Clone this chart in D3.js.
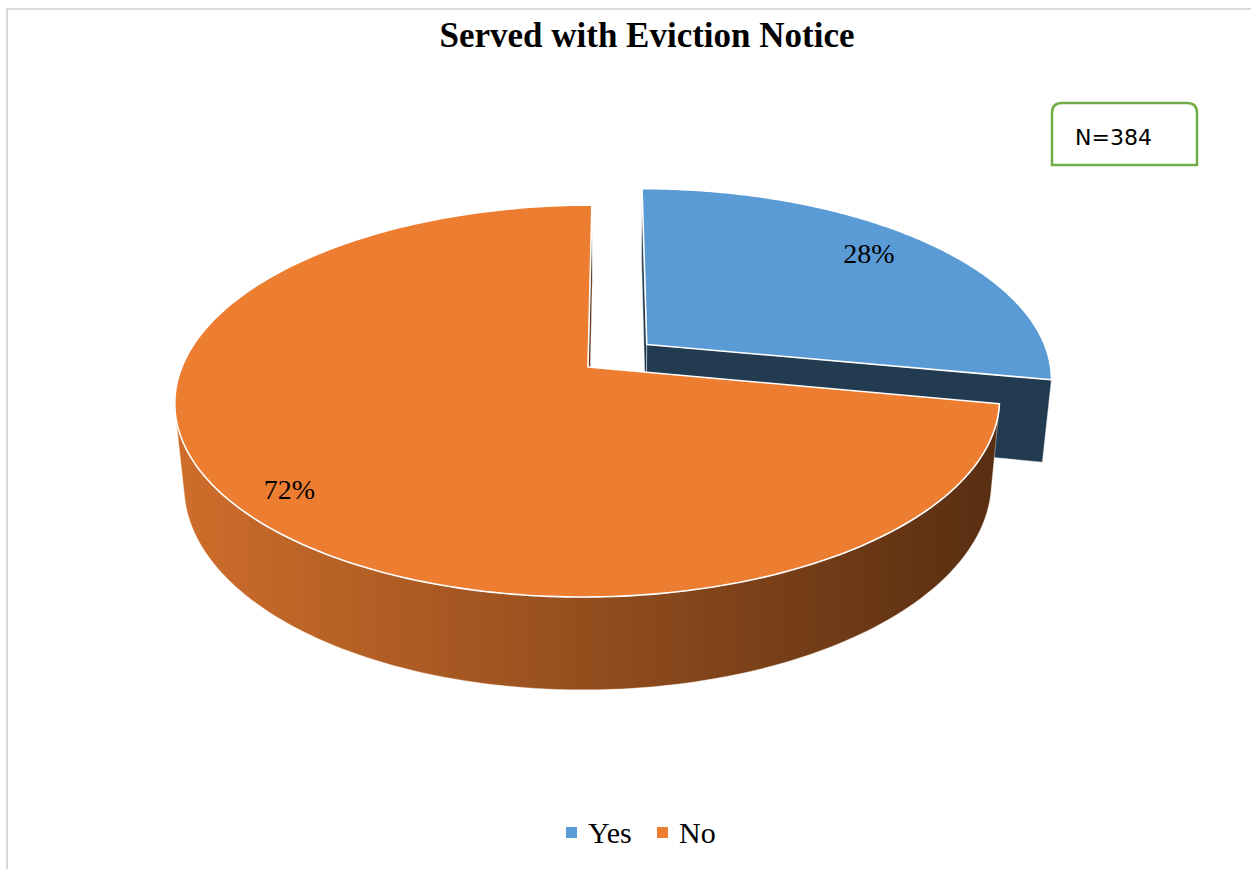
<!DOCTYPE html>
<html><head><meta charset="utf-8">
<script src="https://cdn.jsdelivr.net/npm/d3@7"></script>
<style>body{margin:0;background:#fff}</style>
</head><body>
<svg id="chart" width="1251" height="869"></svg>
<script>
// ---- data ----
const title = "Served with Eviction Notice";
const categories = ["Yes", "No"];
const values = [28, 72];
const valueLabels = ["28%", "72%"];
const colors = ["#5b9bd5", "#ed7d31"];
const noteText = "N=384";

// ---- layout / styling config ----
const W = 1251, H = 869;
const svg = d3.select("#chart");
const apexX = 588, cy = 367;               // projected pie centre
const tilt = 27.6 * Math.PI / 180, dist = 5.1, focal = 2092, thick = 0.2295;
const fx = focal * 0.99, camX = 0.065;     // camera slightly right of centre
const sinA = Math.sin(tilt), cosA = Math.cos(tilt);
const px = apexX + fx * camX / dist;
const explodeBy = {Yes: 0.19, No: 0};
const labelPos = {Yes: {k: 0.825, rot: -1.9}, No: {k: 0.874, rot: -1.9}};

function proj(x, y, z) {
  const Yc = z * sinA + y * cosA;
  const Zc = z * cosA - y * sinA + dist;
  return [px + fx * (x - camX) / Zc, cy - focal * Yc / Zc];
}
function shade(c, k) {
  const r = d3.rgb(c);
  return d3.rgb(r.r * k, r.g * k, r.b * k).formatHex();
}
function area(pts) {
  let s = 0;
  for (let i = 0; i < pts.length; i++) {
    const a = pts[i], b = pts[(i + 1) % pts.length];
    s += a[0] * b[1] - b[0] * a[1];
  }
  return s / 2;
}
const line = d3.line();

// background border
svg.append("rect").attr("width", W).attr("height", H).attr("fill", "#fff");
svg.append("path").attr("d", `M7,${H} V9 H${W}`).attr("fill", "none")
  .attr("stroke", "#d9d9d9").attr("stroke-width", 2);

// title
svg.append("text").attr("x", 647).attr("y", 47).attr("text-anchor", "middle")
  .attr("font-family", "'Liberation Serif','Times New Roman',serif")
  .attr("font-weight", "bold").attr("font-size", 36)
  .attr("textLength", 415).attr("lengthAdjust", "spacingAndGlyphs")
  .text(title);

// pie
const pie = d3.pie().sort(null).startAngle(0).endAngle(2 * Math.PI);
const arcs = pie(values).map((a, i) => {
  const mid = (a.startAngle + a.endAngle) / 2;
  const e = explodeBy[categories[i]] || 0;
  return {a0: a.startAngle, a1: a.endAngle, mid, ox: e * Math.sin(mid), oz: e * Math.cos(mid),
          color: colors[i], cat: categories[i], label: valueLabels[i]};
});

const xLeft = proj(-1, 0, 0)[0], xRight = proj(1, 0, 0)[0];
const defs = svg.append("defs");
arcs.forEach((s, i) => {
  const g = defs.append("linearGradient").attr("id", "side" + i)
    .attr("gradientUnits", "userSpaceOnUse")
    .attr("x1", xLeft).attr("x2", xRight).attr("y1", 0).attr("y2", 0);
  g.append("stop").attr("offset", 0).attr("stop-color", shade(s.color, 0.87));
  g.append("stop").attr("offset", 0.5).attr("stop-color", shade(s.color, 0.62));
  g.append("stop").attr("offset", 1).attr("stop-color", shade(s.color, 0.37));
});

function rimPt(s, t, y) { return proj(s.ox + Math.sin(t), y, s.oz + Math.cos(t)); }
function rimPts(s, t0, t1, y, n) {
  const pts = [];
  for (let i = 0; i <= n; i++) pts.push(rimPt(s, t0 + (t1 - t0) * i / n, y));
  return pts;
}
function sideVisible(s, t) {
  const a = rimPt(s, t, 0), b = rimPt(s, t + 1e-3, 0), c = rimPt(s, t, -thick);
  const dx = b[0] - a[0], dy = b[1] - a[1], bx = c[0] - a[0], by = c[1] - a[1];
  return dx * by - dy * bx < 0;
}

// draw farthest slice first
const order = arcs.map((s, i) => i).sort((p, q) =>
  (arcs[q].oz + 0.5 * Math.cos(arcs[q].mid)) - (arcs[p].oz + 0.5 * Math.cos(arcs[p].mid)));

const pieG = svg.append("g");
order.forEach(i => {
  const s = arcs[i];
  const g = pieG.append("g");
  // radial walls
  [[s.a0, -1], [s.a1, 1]].forEach(([t, sgn]) => {
    const pts = [proj(s.ox, 0, s.oz), rimPt(s, t, 0), rimPt(s, t, -thick), proj(s.ox, -thick, s.oz)];
    if (sgn * area(pts) <= 1) return;
    g.append("path").attr("d", line(pts) + "Z").attr("fill", shade(s.color, 0.38))
      .attr("stroke", "#ffffff").attr("stroke-opacity", 0.5).attr("stroke-width", 0.8)
      .attr("stroke-linejoin", "round");
  });
  // outer side: visible runs
  const N = 400;
  let run = null; const runs = [];
  for (let k = 0; k <= N; k++) {
    const t = s.a0 + (s.a1 - s.a0) * k / N;
    if (sideVisible(s, t)) { if (!run) run = [t, t]; else run[1] = t; }
    else if (run) { runs.push(run); run = null; }
  }
  if (run) runs.push(run);
  runs.forEach(([t0, t1]) => {
    const top = rimPts(s, t0, t1, 0, 120);
    const bot = rimPts(s, t0, t1, -thick, 120).reverse();
    g.append("path").attr("d", line(top.concat(bot)) + "Z").attr("fill", `url(#side${i})`)
      .attr("stroke", "#fff4e8").attr("stroke-opacity", 0.5).attr("stroke-width", 0.8);
  });
  // top face
  const topPts = [proj(s.ox, 0, s.oz)].concat(rimPts(s, s.a0, s.a1, 0, 240));
  g.append("path").attr("d", line(topPts) + "Z").attr("fill", s.color)
    .attr("stroke", "#ffffff").attr("stroke-width", 1.6).attr("stroke-linejoin", "round");
});

// data labels
arcs.forEach(s => {
  const lp = labelPos[s.cat];
  const ang = s.mid + lp.rot * Math.PI / 180;
  const p = proj(s.ox + lp.k * Math.sin(ang), 0, s.oz + lp.k * Math.cos(ang));
  svg.append("text").attr("x", p[0]).attr("y", p[1] + 9.5).attr("text-anchor", "middle")
    .attr("font-family", "'Liberation Serif','Times New Roman',serif")
    .attr("font-size", 28).attr("fill", "#000").text(s.label);
});

// N box (rounded top corners)
const bx0 = 1052, bx1 = 1197, by0 = 103, by1 = 165, br = 10;
svg.append("path")
  .attr("d", `M${bx0},${by1} V${by0 + br} Q${bx0},${by0} ${bx0 + br},${by0} H${bx1 - br} Q${bx1},${by0} ${bx1},${by0 + br} V${by1} Z`)
  .attr("fill", "#fff").attr("stroke", "#70ad47").attr("stroke-width", 2.5);
svg.append("text").attr("x", 1075).attr("y", 145)
  .attr("font-family", "'DejaVu Sans',sans-serif").attr("font-size", 22).attr("fill", "#000")
  .text(noteText);

// legend
const legend = svg.append("g");
const legX = d3.scaleOrdinal().domain(categories).range([566, 657]);
categories.forEach((c, i) => {
  legend.append("rect").attr("x", legX(c)).attr("y", 827).attr("width", 11).attr("height", 11)
    .attr("fill", colors[i]);
  legend.append("text").attr("x", legX(c) + 22).attr("y", 843)
    .attr("font-family", "'Liberation Serif','Times New Roman',serif")
    .attr("font-size", 30).attr("fill", "#000").text(c);
});
</script>
</body></html>
